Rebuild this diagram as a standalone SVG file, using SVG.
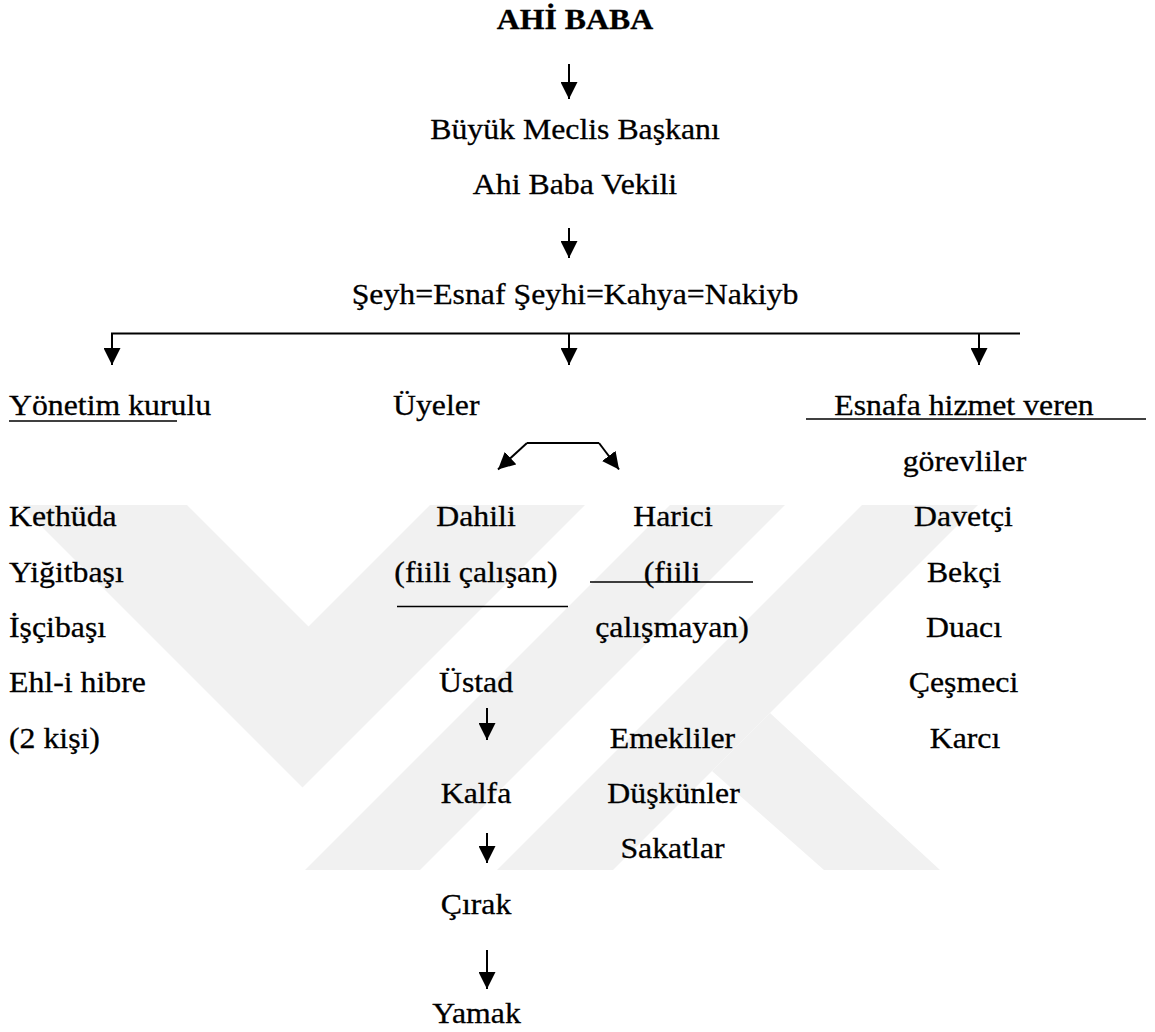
<svg xmlns="http://www.w3.org/2000/svg" width="1155" height="1032" viewBox="0 0 1155 1032">
<defs>
<style>
.t{font-size:30px;fill:#000;stroke:#000;stroke-width:0.3}
.c{text-anchor:middle}
.b{font-weight:bold}
.ln{stroke:#000;stroke-width:2;fill:none}
.ul{stroke:#000;stroke-width:1.6;fill:none}
.wm{fill:#f1f1f1;stroke:none}
</style>
<marker id="ah" markerUnits="userSpaceOnUse" markerWidth="17" markerHeight="17" viewBox="0 0 16 16" refX="16" refY="8" orient="auto">
<path d="M0,0 L16,8 L0,16 z" fill="#000"/>
</marker>
</defs>
<rect width="1155" height="1032" fill="#fff"/>

<g id="watermark">
<polygon class="wm" points="20,505 187,505 308.5,626.5 430,505 585,505 302.5,787.5"/>
<polygon class="wm" points="670,505 785,505 420,870 305,870"/>
<polygon class="wm" points="862,505 978,505 613,870 497,870"/>
<polygon class="wm" points="770,713 940,870 824,870 712,771"/>
</g>

<g id="connectors">
<line class="ln" x1="569" y1="64" x2="569" y2="99" marker-end="url(#ah)"/>
<line class="ln" x1="569" y1="228" x2="569" y2="258" marker-end="url(#ah)"/>
<line class="ln" x1="111" y1="333.5" x2="1020" y2="333.5"/>
<line class="ln" x1="112" y1="333.5" x2="112" y2="365" marker-end="url(#ah)"/>
<line class="ln" x1="569" y1="333.5" x2="569" y2="365" marker-end="url(#ah)"/>
<line class="ln" x1="979" y1="333.5" x2="979" y2="365" marker-end="url(#ah)"/>
<line class="ln" x1="527" y1="443" x2="599" y2="443"/>
<line class="ln" x1="527" y1="443" x2="498" y2="469.5" marker-end="url(#ah)"/>
<line class="ln" x1="599" y1="443" x2="619" y2="469.5" marker-end="url(#ah)"/>
<line class="ln" x1="487" y1="708" x2="487" y2="740" marker-end="url(#ah)"/>
<line class="ln" x1="487" y1="833" x2="487" y2="863" marker-end="url(#ah)"/>
<line class="ln" x1="487" y1="950" x2="487" y2="989" marker-end="url(#ah)"/>
<line class="ul" x1="9" y1="421" x2="177" y2="421"/>
<line class="ul" x1="806" y1="419" x2="1146" y2="419"/>
<line class="ul" x1="397" y1="606.5" x2="568" y2="606.5"/>
<line class="ul" x1="590" y1="582" x2="753" y2="582"/>
</g>

<g font-family="Liberation Serif, Times New Roman, serif">
<g id="n-ahibaba"><text class="t c b" transform="translate(575,29) scale(1.06,1)">AHİ BABA</text></g>
<g id="n-meclis">
<text class="t c" transform="translate(575,139) scale(1.06,1)">Büyük Meclis Başkanı</text>
<text class="t c" transform="translate(575,193.5) scale(1.06,1)">Ahi Baba Vekili</text>
</g>
<g id="n-seyh"><text class="t c" transform="translate(575,304) scale(1.06,1)">Şeyh=Esnaf Şeyhi=Kahya=Nakiyb</text></g>

<g id="n-yonetim">
<text class="t" transform="translate(9,415) scale(1.06,1)">Yönetim kurulu</text>
<text class="t" transform="translate(9,526) scale(1.06,1)">Kethüda</text>
<text class="t" transform="translate(9,581.5) scale(1.06,1)">Yiğitbaşı</text>
<text class="t" transform="translate(9,637) scale(1.06,1)">İşçibaşı</text>
<text class="t" transform="translate(9,692) scale(1.06,1)">Ehl-i hibre</text>
<text class="t" transform="translate(9,747.5) scale(1.06,1)">(2 kişi)</text>
</g>

<g id="n-uyeler"><text class="t" transform="translate(393,415) scale(1.06,1)">Üyeler</text></g>

<g id="n-dahili">
<text class="t c" transform="translate(476,526) scale(1.06,1)">Dahili</text>
<text class="t c" transform="translate(476,581.5) scale(1.06,1)">(fiili çalışan)</text>
</g>

<g id="n-harici">
<text class="t c" transform="translate(673,526) scale(1.06,1)">Harici</text>
<text class="t c" transform="translate(672,581.5) scale(1.06,1)">(fiili</text>
<text class="t c" transform="translate(672,637) scale(1.06,1)">çalışmayan)</text>
</g>

<g id="n-ustad"><text class="t c" transform="translate(476,692) scale(1.06,1)">Üstad</text></g>
<g id="n-kalfa"><text class="t c" transform="translate(476,803) scale(1.06,1)">Kalfa</text></g>
<g id="n-cirak"><text class="t c" transform="translate(476,913.5) scale(1.06,1)">Çırak</text></g>
<g id="n-yamak"><text class="t c" transform="translate(476.5,1023) scale(1.06,1)">Yamak</text></g>

<g id="n-harici-list">
<text class="t c" transform="translate(672.5,747.5) scale(1.06,1)">Emekliler</text>
<text class="t c" transform="translate(673.5,803) scale(1.06,1)">Düşkünler</text>
<text class="t c" transform="translate(672.5,858) scale(1.06,1)">Sakatlar</text>
</g>

<g id="n-esnafa">
<text class="t c" transform="translate(964,415) scale(1.06,1)">Esnafa hizmet veren</text>
<text class="t c" transform="translate(964.5,470.5) scale(1.06,1)">görevliler</text>
<text class="t c" transform="translate(963.5,526) scale(1.06,1)">Davetçi</text>
<text class="t c" transform="translate(964,581.5) scale(1.06,1)">Bekçi</text>
<text class="t c" transform="translate(964,637) scale(1.06,1)">Duacı</text>
<text class="t c" transform="translate(963.5,692) scale(1.06,1)">Çeşmeci</text>
<text class="t c" transform="translate(965,747.5) scale(1.06,1)">Karcı</text>
</g>
</g>
</svg>
